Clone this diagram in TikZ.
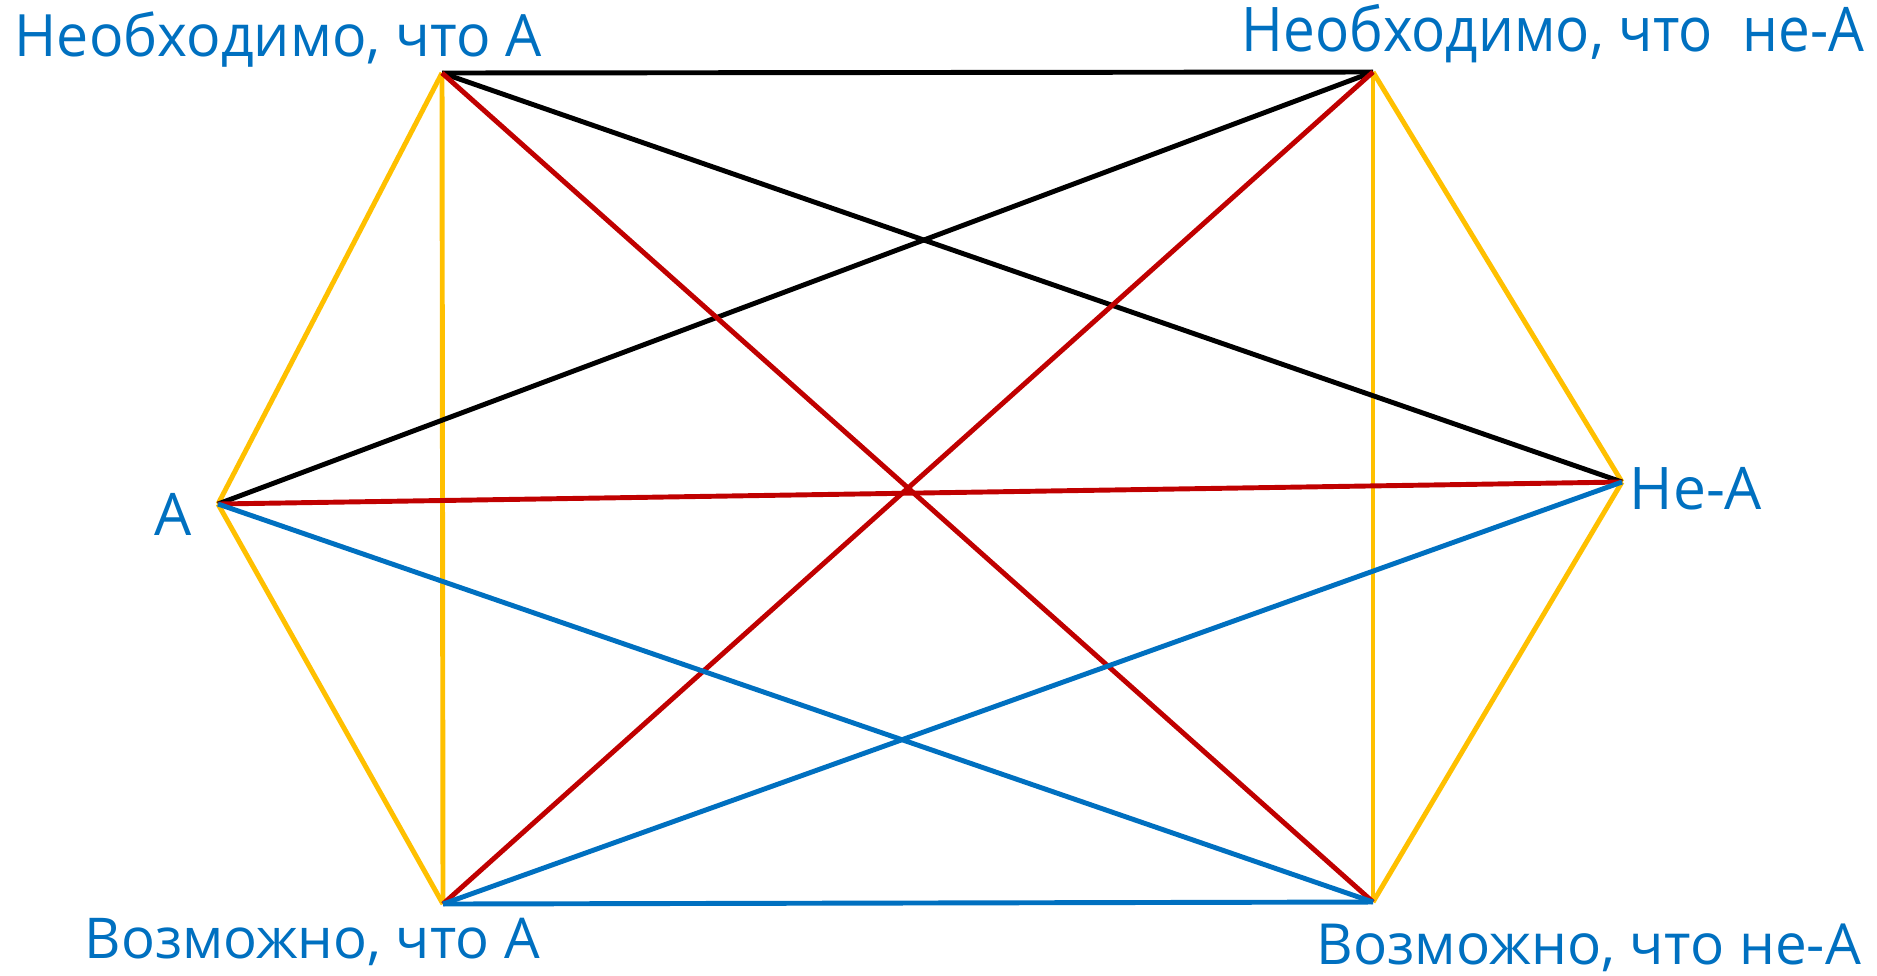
\documentclass[tikz,border=0pt]{standalone}
\usepackage{fontspec}
\setmainfont{Open Sans}
\usepackage{tikz}
\usetikzlibrary{positioning}
\definecolor{SqBlue}{HTML}{0070C0}
\definecolor{SqYellow}{HTML}{FFC000}
\definecolor{SqRed}{HTML}{C00000}
\definecolor{SqBlack}{HTML}{000000}

\begin{document}
\begin{tikzpicture}[
  x=0.01cm, y=-0.01cm,
  lbl/.style={text=SqBlue, inner sep=0pt, anchor=base west},
  contrary/.style={SqBlack, line width=1.4pt},
  contradict/.style={SqRed, line width=1.4pt},
  subcontrary/.style={SqBlue, line width=1.4pt},
  implies/.style={SqYellow, line width=1.4pt},
]
\useasboundingbox (0,0) rectangle (1877,975);

% --- Vertices ---
\coordinate (NA)  at (442, 73);
\coordinate (NnA) at (1373, 72);
\coordinate (A)   at (218, 504);
\coordinate (nA)  at (1622, 482);
\coordinate (PA)  at (443, 904);
\coordinate (PnA) at (1373, 902);

% --- Labels ---
\node[lbl, font=\fontsize{16.6}{19}\selectfont] (lNA) at (14, 56)
  {\scalebox{0.98}[1]{Необходимо, что A}};
\node[lbl, font=\fontsize{17.5}{20}\selectfont] (lNnA) at (1241, 51)
  {\scalebox{0.92}[1]{Необходимо, что\ \ не-A}};
\node[lbl, font=\fontsize{16.7}{20}\selectfont] (lA) at (154, 535) {A};
\node[lbl, font=\fontsize{16.7}{20}\selectfont] (lnA) at (1629, 509) {Не-A};
\node[lbl, font=\fontsize{16}{19}\selectfont] (lPA) at (84, 958) {Возможно, что A};
\node[lbl, font=\fontsize{16.1}{19}\selectfont] (lPnA) at (1316, 964) {Возможно, что не-A};

% --- Lines ---
\foreach \a/\b in {NA/A, NA/PA, A/PA, NnA/nA, NnA/PnA, nA/PnA}
  \draw[implies] (\a) -- (\b);
\foreach \a/\b in {NA/NnA, NA/nA, A/NnA}
  \draw[contrary] (\a) -- (\b);
\foreach \a/\b in {NA/PnA, NnA/PA, A/nA}
  \draw[contradict] (\a) -- (\b);
\foreach \a/\b in {PA/PnA, A/PnA, nA/PA}
  \draw[subcontrary] (\a) -- (\b);

\end{tikzpicture}
\end{document}
